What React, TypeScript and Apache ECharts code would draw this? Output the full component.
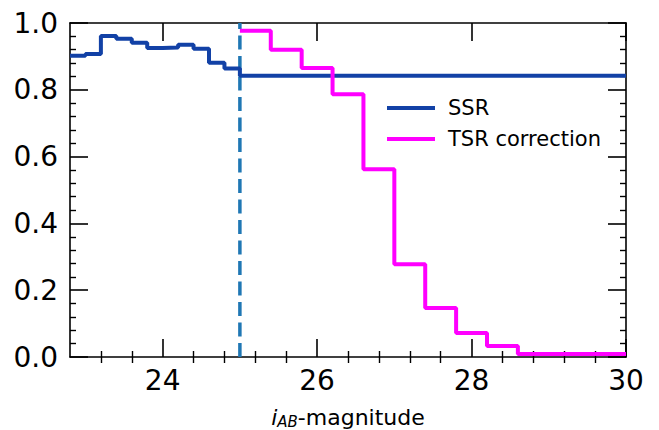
import React, { useEffect, useRef } from "react";
import * as echarts from "echarts";

// SSR: left bin edges (last entry is the right end of the final bin) and values
const ssrEdges = [22.8, 23.0, 23.2, 23.4, 23.6, 23.8, 24.0, 24.2, 24.4, 24.6, 24.8, 25.0, 30.0];
const ssrValues = [0.902, 0.907, 0.961, 0.953, 0.941, 0.925, 0.927, 0.935, 0.923, 0.881, 0.864, 0.842];

// TSR correction
const tsrEdges = [25.0, 25.4, 25.8, 26.2, 26.6, 27.0, 27.4, 27.8, 28.2, 28.6, 29.0, 29.4, 29.8, 30.0];
const tsrValues = [0.977, 0.92, 0.865, 0.787, 0.562, 0.278, 0.147, 0.072, 0.033, 0.009, 0.009, 0.009, 0.009];

const cutMagnitude = 25.0;

const xMajorTicks = [24, 26, 28, 30];
const xMinorTicks = [23.2, 23.6, 24.4, 24.8, 25.2, 25.6, 26.4, 26.8, 27.2, 27.6, 28.4, 28.8, 29.2, 29.6];
const xMin = 22.8;
const xMax = 30;

const FONT = "DejaVu Sans";

function stepData(edges: number[], values: number[]) {
  return edges.map((e, i) => [e, values[Math.min(i, values.length - 1)]]);
}

export default function App() {
  const ref = useRef<HTMLDivElement>(null);
  useEffect(() => {
    if (!ref.current) return;
    const chart = echarts.init(ref.current, undefined, { renderer: "svg" });
    const black = "#000";
    const baseX = {
      type: "value" as const,
      min: xMin,
      max: xMax,
      splitLine: { show: false },
      axisLine: { show: true, onZero: false, lineStyle: { color: black, width: 1.6 } },
    };
    const baseY = {
      type: "value" as const,
      min: 0,
      max: 1,
      interval: 0.2,
      splitLine: { show: false },
      axisLine: { show: true, onZero: false, lineStyle: { color: black, width: 1.6 } },
      axisTick: { show: true, inside: true, length: 18, lineStyle: { color: black, width: 1.6 } },
      minorTick: { show: true, splitNumber: 5, length: 6, lineStyle: { color: black, width: 1.4 } },
    };
    chart.setOption({
      animation: false,
      backgroundColor: "#fff",
      grid: { left: 70, top: 23, right: 33, bottom: 73, containLabel: false, outerBoundsMode: "none" },
      legend: {
        data: ["SSR", "TSR correction"],
        orient: "vertical",
        left: 382,
        top: 92,
        icon: "rect",
        itemWidth: 48,
        itemHeight: 4,
        itemGap: 9,
        textStyle: { fontFamily: FONT, fontSize: 21, color: black, lineHeight: 22, padding: [0, 0, 0, 8] },
      },
      xAxis: [
        {
          ...baseX,
          position: "bottom",
          name: "{it|i}{sub|AB}{n|-magnitude}",
          nameLocation: "middle",
          nameGap: 48,
          nameTextStyle: {
            fontFamily: FONT,
            fontSize: 22,
            color: black,
            lineHeight: 24,
            rich: {
              it: { fontFamily: FONT, fontStyle: "italic", fontSize: 22, lineHeight: 24, color: black },
              sub: { fontFamily: FONT, fontStyle: "italic", fontSize: 15, lineHeight: 12, verticalAlign: "bottom", color: black },
              n: { fontFamily: FONT, fontSize: 22, lineHeight: 24, color: black },
            },
          },
          axisTick: { show: true, inside: true, length: 18, customValues: xMajorTicks, lineStyle: { color: black, width: 1.6 } },
          axisLabel: { show: true, customValues: xMajorTicks, margin: 9, fontFamily: FONT, fontSize: 28, color: black },
        },
        {
          ...baseX,
          position: "bottom",
          axisLine: { show: false },
          axisTick: { show: true, inside: true, length: 6, customValues: xMinorTicks, lineStyle: { color: black, width: 1.4 } },
          axisLabel: { show: false },
        },
        {
          ...baseX,
          position: "top",
          axisTick: { show: true, inside: true, length: 18, customValues: xMajorTicks, lineStyle: { color: black, width: 1.6 } },
          axisLabel: { show: false },
        },
        {
          ...baseX,
          position: "top",
          axisLine: { show: false },
          axisTick: { show: true, inside: true, length: 6, customValues: xMinorTicks, lineStyle: { color: black, width: 1.4 } },
          axisLabel: { show: false },
        },
      ],
      yAxis: [
        {
          ...baseY,
          position: "left",
          axisLabel: {
            show: true,
            margin: 12,
            fontFamily: FONT,
            fontSize: 28,
            color: black,
            formatter: (v: number) => v.toFixed(1),
          },
        },
        {
          ...baseY,
          position: "right",
          axisLabel: { show: false },
        },
      ],
      series: [
        {
          name: "cut",
          type: "line",
          data: [
            [cutMagnitude, 0],
            [cutMagnitude, 1],
          ],
          showSymbol: false,
          symbol: "none",
          lineStyle: { color: "#1f77b4", width: 3.5, type: [14, 6.5] },
          itemStyle: { color: "#1f77b4" },
          z: 2,
        },
        {
          name: "SSR",
          type: "line",
          step: "end",
          data: stepData(ssrEdges, ssrValues),
          showSymbol: false,
          symbol: "none",
          lineStyle: { color: "#1241a6", width: 4 },
          itemStyle: { color: "#1241a6" },
          z: 3,
        },
        {
          name: "TSR correction",
          type: "line",
          step: "end",
          data: stepData(tsrEdges, tsrValues),
          showSymbol: false,
          symbol: "none",
          lineStyle: { color: "#ff00ff", width: 4 },
          itemStyle: { color: "#ff00ff" },
          z: 3,
        },
      ],
    });
    return () => chart.dispose();
  }, []);
  return <div ref={ref} style={{ position: "absolute", left: 0, top: 0, width: 659, height: 430 }} />;
}
